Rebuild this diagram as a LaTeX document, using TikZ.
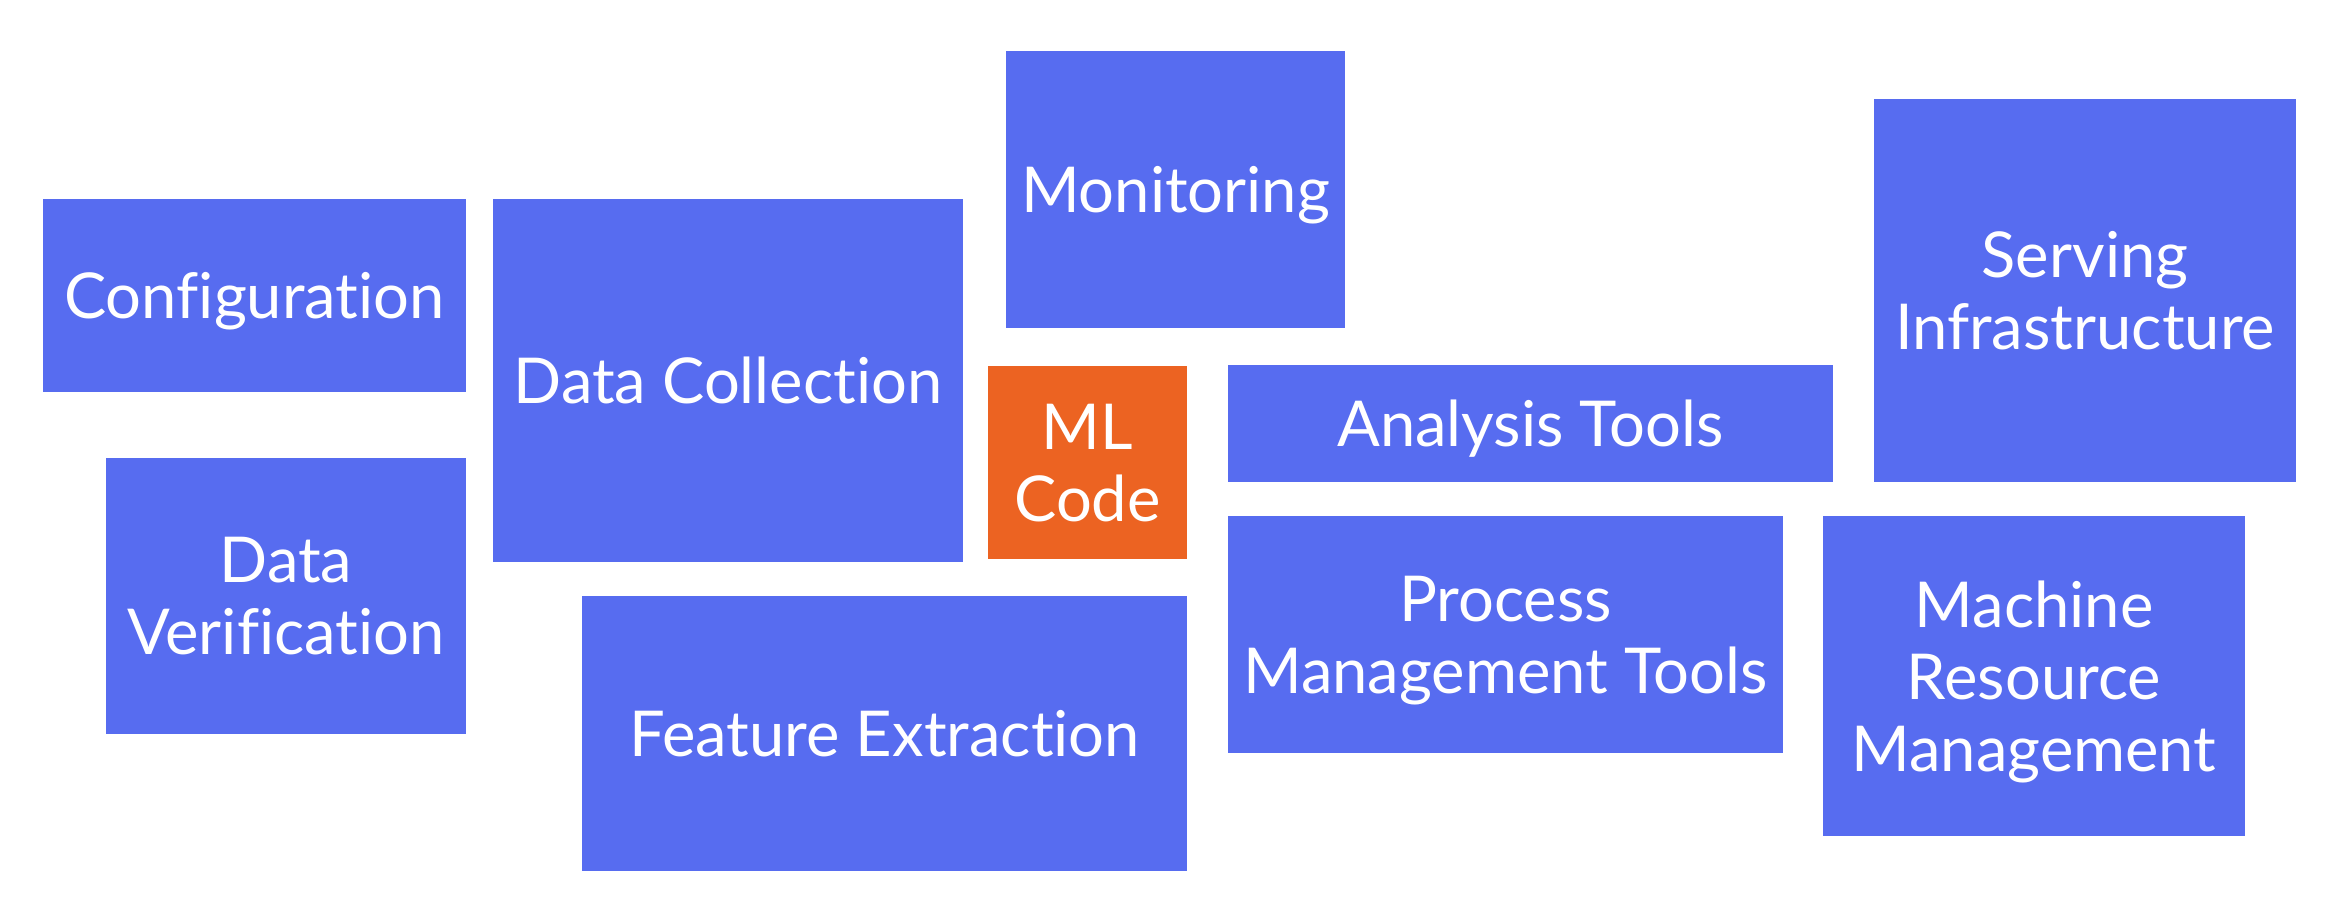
\documentclass[tikz,border=0pt]{standalone}
\usepackage{fontspec}
\setmainfont{Lato}[Ligatures=NoCommon]
\usepackage{xcolor}
\usepackage{tikz}
\usetikzlibrary{positioning}
\definecolor{mlblue}{RGB}{87,108,240}
\definecolor{mlorange}{RGB}{236,99,34}
\tikzstyle{block} = [rectangle, inner sep=0pt, align=center, text depth=0pt, fill=mlblue, text=white, font=\fontsize{18pt}{20.5pt}\selectfont]
\tikzstyle{core} = [block, fill=mlorange]

\begin{document}
\begin{tikzpicture}
    \useasboundingbox (0,0) rectangle (23.43,9.24);
    % Nodes
    \node[block, minimum width=4.23cm, minimum height=1.93cm] (config) at (2.545,6.285) {Configuration};
    \node[block, minimum width=4.70cm, minimum height=3.63cm] (collect) at (7.28,5.435) {Data Collection};
    \node[block, minimum width=3.39cm, minimum height=2.77cm] (monitor) at (11.755,7.345) {Monitoring};
    \node[core, minimum width=1.99cm, minimum height=1.93cm] (mlcode) at (10.875,4.615) {ML\\Code};
    \node[block, minimum width=6.05cm, minimum height=1.17cm] (analysis) at (15.305,5.005) {Analysis Tools};
    \node[block, minimum width=4.22cm, minimum height=3.83cm] (serving) at (20.85,6.335) {Serving\\Infrastructure};
    \node[block, minimum width=3.60cm, minimum height=2.76cm] (verify) at (2.86,3.28) {Data\\Verification};
    \node[block, minimum width=6.05cm, minimum height=2.75cm] (feature) at (8.845,1.905) {Feature Extraction};
    \node[block, minimum width=5.55cm, minimum height=2.37cm] (process) at (15.055,2.895) {Process\\Management Tools};
    \node[block, minimum width=4.22cm, minimum height=3.20cm] (machine) at (20.34,2.48) {Machine\\Resource\\Management};
\end{tikzpicture}
\end{document}
